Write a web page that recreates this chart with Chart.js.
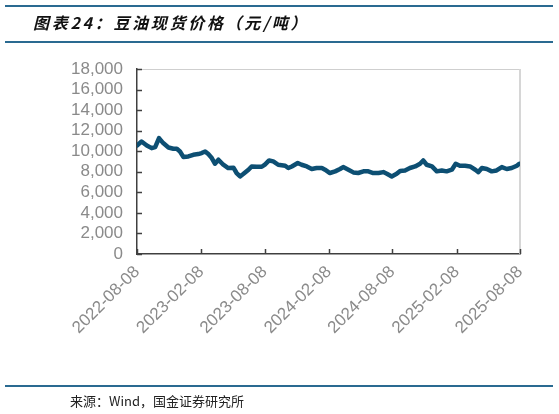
<!DOCTYPE html>
<html>
<head>
<meta charset="utf-8">
<script src="https://cdn.jsdelivr.net/npm/chart.js@4.4.1/dist/chart.umd.min.js"></script>
<style>
    html, body { margin: 0; padding: 0; background: #fff; }
    #wrap { position: relative; width: 559px; height: 414px; overflow: hidden; }
    #chart { position: absolute; left: 0; top: 0; }
    .rule { position: absolute; left: 5px; width: 548px; height: 2px; background: #2a6a91; }
    #title {
        position: absolute; left: 33px; top: 12px;
        font-family: "Noto Sans CJK SC", sans-serif; font-size: 16px; font-weight: bold;
        font-style: italic; letter-spacing: 2.7px; color: #111; line-height: 20px;
    }
    #source {
        position: absolute; left: 70px; top: 392px;
        font-family: "Noto Sans CJK SC", sans-serif; font-size: 13px; color: #222; line-height: 18px;
    }
</style>
</head>
<body>
<div id="wrap">
    <canvas id="chart" width="559" height="414"></canvas>
    <div class="rule" style="top:5px"></div>
    <div id="title">图表24：豆油现货价格（元/吨）</div>
    <div class="rule" style="top:41px"></div>
    <div class="rule" style="top:385px"></div>
    <div id="source">来源：Wind，国金证券研究所</div>
</div>
<script>
// Dates on the x axis (every 6 months)
const tickLabels = ['2022-08-08', '2023-02-08', '2023-08-08', '2024-02-08', '2024-08-08', '2025-02-08', '2025-08-08'];

// Spot price readings: days since 2022-08-08 and price (yuan/ton)
const priceDays = [
    0, 13, 28, 42, 52, 63, 75, 90, 104, 114, 123, 133, 147, 161, 175, 185, 195, 204, 214, 223,
    233, 247, 261, 276, 285, 295, 304, 319, 328, 343, 357, 366, 378, 390, 404, 424, 433, 443, 460, 471,
    486, 500, 514, 529, 538, 552, 567, 581, 590, 605, 619, 633, 648, 662, 676, 691, 705, 715, 729, 743,
    753, 767, 781, 796, 810, 819, 829, 844, 858, 872, 886, 901, 912, 924, 939, 953, 968, 977, 987, 1001,
    1015, 1029, 1044, 1058, 1072, 1087, 1094
];
const priceValues = [
    10560, 10945, 10560, 10300, 10400, 11275, 10790, 10365, 10240, 10240, 9975, 9430, 9490, 9655, 9720, 9820, 9975, 9720, 9335, 8780,
    9170, 8685, 8365, 8400, 7880, 7550, 7780, 8200, 8520, 8490, 8490, 8700, 9100, 9010, 8685, 8590, 8365, 8520, 8850, 8685,
    8520, 8270, 8365, 8365, 8200, 7880, 8040, 8270, 8460, 8200, 7940, 7880, 8040, 8040, 7880, 7880, 7970, 7810, 7550, 7800,
    8080, 8130, 8365, 8520, 8780, 9100, 8685, 8520, 8040, 8130, 8040, 8200, 8780, 8590, 8590, 8520, 8200, 7970, 8365, 8270,
    8040, 8130, 8460, 8270, 8365, 8590, 8780
];

const yMin = 0;
const yMax = 18000;
const yStep = 2000;

const startDate = Date.UTC(2022, 7, 8);
const tickDays = tickLabels.map(s => {
    const p = s.split('-');
    return Math.round((Date.UTC(+p[0], +p[1] - 1, +p[2]) - startDate) / 86400000);
});

const labelFont = { family: '"Liberation Sans", Arial, sans-serif', size: 17 };
const axisColor = '#404040';

// Light grey frame on top/right, and tick marks pointing into the plot
const framePlugin = {
    id: 'frame',
    beforeDatasetsDraw(chart) {
        const { ctx, chartArea } = chart;
        ctx.save();
        ctx.strokeStyle = '#cfcfcf';
        ctx.lineWidth = 1;
        ctx.beginPath();
        ctx.moveTo(chartArea.left, chartArea.top + 0.5);
        ctx.lineTo(chartArea.right, chartArea.top + 0.5);
        ctx.stroke();
        ctx.lineWidth = 2;
        ctx.strokeStyle = '#d6d6d6';
        ctx.beginPath();
        ctx.moveTo(chartArea.right, chartArea.top);
        ctx.lineTo(chartArea.right, chartArea.bottom);
        ctx.stroke();
        ctx.restore();
    },
    afterDraw(chart) {
        const { ctx, chartArea, scales } = chart;
        ctx.save();
        ctx.strokeStyle = axisColor;
        ctx.lineWidth = 1.5;
        ctx.beginPath();
        scales.y.ticks.forEach(t => {
            const y = Math.round(scales.y.getPixelForValue(t.value)) + 0.5;
            ctx.moveTo(chartArea.left, y);
            ctx.lineTo(chartArea.left + 5, y);
        });
        scales.x.ticks.forEach(t => {
            const x = Math.round(scales.x.getPixelForValue(t.value)) + 0.5;
            ctx.moveTo(x, chartArea.bottom);
            ctx.lineTo(x, chartArea.bottom - 5);
        });
        ctx.stroke();
        ctx.restore();
    }
};

const ctx = document.getElementById('chart').getContext('2d');
new Chart(ctx, {
    type: 'line',
    data: {
        datasets: [{
            label: '豆油现货价格',
            data: priceDays.map((d, i) => ({ x: d, y: priceValues[i] })),
            borderColor: '#0d4f73',
            borderWidth: 4.5,
            pointRadius: 0,
            tension: 0,
            borderJoinStyle: 'round',
            borderCapStyle: 'round'
        }]
    },
    options: {
        responsive: false,
        animation: false,
        layout: { padding: { top: 69, right: 39, left: 0, bottom: 0 } },
        plugins: {
            legend: { display: false },
            tooltip: { enabled: false }
        },
        scales: {
            x: {
                type: 'linear',
                min: 0,
                max: tickDays[tickDays.length - 1],
                afterBuildTicks: scale => { scale.ticks = tickDays.map(v => ({ value: v })); },
                afterFit: scale => { scale.height = 160; },
                grid: { display: false, drawTicks: false },
                border: { display: true, color: axisColor, width: 1.5 },
                ticks: {
                    autoSkip: false,
                    maxRotation: 45,
                    minRotation: 45,
                    padding: 8,
                    color: '#8a8a8a',
                    font: labelFont,
                    callback: (v, i) => tickLabels[i]
                }
            },
            y: {
                min: yMin,
                max: yMax,
                afterFit: scale => { scale.width = 137; },
                grid: { display: false, drawTicks: false },
                border: { display: true, color: axisColor, width: 1.5 },
                ticks: {
                    autoSkip: false,
                    stepSize: yStep,
                    padding: 14,
                    color: '#8a8a8a',
                    font: labelFont,
                    callback: v => v.toLocaleString('en-US')
                }
            }
        }
    },
    plugins: [framePlugin]
});
</script>
</body>
</html>
